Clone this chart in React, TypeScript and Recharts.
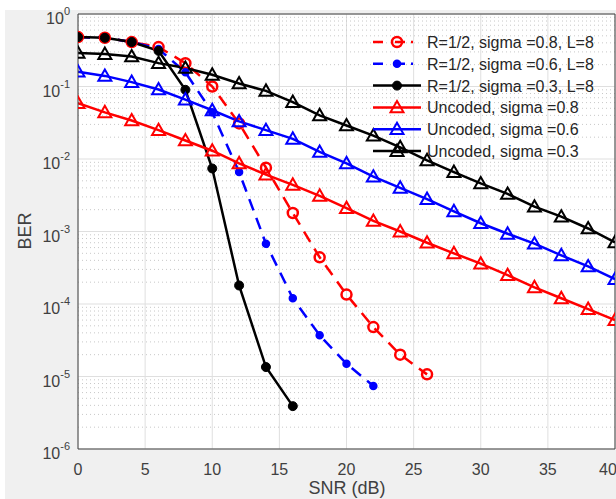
import React from "react";
import {
  LineChart,
  Line,
  XAxis,
  YAxis,
  CartesianGrid,
  ReferenceLine,
} from "recharts";

// ---- data ----
const snrCoded08 = [0, 2, 4, 6, 8, 10, 12, 14, 16, 18, 20, 22, 24, 26];
const berCoded08 = [0.48, 0.47, 0.41, 0.35, 0.21, 0.1, 0.031, 0.0076, 0.0018, 4.4e-4, 1.35e-4, 4.8e-5, 2.0e-5, 1.07e-5];

const snrCoded06 = [0, 2, 4, 6, 8, 10, 12, 14, 16, 18, 20, 22];
const berCoded06 = [0.48, 0.47, 0.41, 0.33, 0.157, 0.044, 0.0066, 6.8e-4, 1.2e-4, 3.7e-5, 1.5e-5, 7.4e-6];

const snrCoded03 = [0, 2, 4, 6, 8, 10, 12, 14, 16];
const berCoded03 = [0.48, 0.47, 0.41, 0.31, 0.09, 0.0074, 1.8e-4, 1.35e-5, 3.9e-6];

const snrUncoded = [0, 2, 4, 6, 8, 10, 12, 14, 16, 18, 20, 22, 24, 26, 28, 30, 32, 34, 36, 38, 40];
const berUnc08 = [0.059, 0.044, 0.034, 0.025, 0.018, 0.013, 0.0087, 0.0061, 0.0044, 0.0031, 0.0021, 0.0014, 0.001, 7.0e-4, 5.0e-4, 3.6e-4, 2.5e-4, 1.7e-4, 1.2e-4, 8.5e-5, 6.0e-5];
const berUnc06 = [0.16, 0.14, 0.115, 0.091, 0.066, 0.047, 0.033, 0.025, 0.019, 0.0125, 0.0087, 0.0057, 0.004, 0.0028, 0.0019, 0.0013, 9.3e-4, 6.8e-4, 4.7e-4, 3.3e-4, 2.2e-4];
const berUnc03 = [0.29, 0.28, 0.26, 0.21, 0.18, 0.145, 0.11, 0.087, 0.061, 0.04, 0.029, 0.021, 0.0145, 0.0096, 0.0066, 0.0046, 0.0033, 0.0022, 0.0016, 0.0011, 7.1e-4];

const xTicks = [0, 5, 10, 15, 20, 25, 30, 35, 40];
const yExponents = [-6, -5, -4, -3, -2, -1, 0];
const minorMultipliers = [2, 3, 4, 5, 6, 7, 8, 9];

const legendLabels = [
  "R=1/2, sigma =0.8, L=8",
  "R=1/2, sigma =0.6, L=8",
  "R=1/2, sigma =0.3, L=8",
  "Uncoded, sigma =0.8",
  "Uncoded, sigma =0.6",
  "Uncoded, sigma =0.3",
];

const toRows = (xs: number[], ys: number[]) => xs.map((x, i) => ({ snr: x, ber: ys[i] }));

const yTicks = yExponents.map((e) => Math.pow(10, e));
const minorTicks: number[] = [];
yExponents.slice(0, -1).forEach((e) => {
  minorMultipliers.forEach((m) => minorTicks.push(m * Math.pow(10, e)));
});

const FONT = "'Liberation Sans', Arial, Helvetica, sans-serif";
const RED = "#ff0000";
const BLUE = "#0000ff";
const BLACK = "#000000";
const DASH = "12 8";

type MarkerKind = "openCircle" | "smallDot" | "dot" | "triangle";

const Marker = ({ cx, cy, kind, color }: { cx: number; cy: number; kind: MarkerKind; color: string }) => {
  if (cx == null || cy == null || isNaN(cx) || isNaN(cy)) return null;
  if (kind === "openCircle")
    return <circle cx={cx} cy={cy} r={5} fill="none" stroke={color} strokeWidth={2.5} />;
  if (kind === "smallDot")
    return <circle cx={cx} cy={cy} r={3.5} fill={color} stroke={color} strokeWidth={1.5} />;
  if (kind === "dot")
    return <circle cx={cx} cy={cy} r={4.5} fill={color} stroke={color} strokeWidth={1} />;
  const s = 6.5;
  return (
    <polygon
      points={`${cx},${cy - s} ${cx - s},${cy + s * 0.75} ${cx + s},${cy + s * 0.75}`}
      fill="none"
      stroke={color}
      strokeWidth={2}
      strokeLinejoin="miter"
    />
  );
};

const makeDot = (kind: MarkerKind, color: string) => (props: any) => (
  <Marker key={`${kind}-${color}-${props.index}`} cx={props.cx} cy={props.cy} kind={kind} color={color} />
);

const YTick = (props: any) => {
  const { x, y, payload } = props;
  const e = Math.round(Math.log10(payload.value));
  return (
    <text x={x - 6} y={y + 10} textAnchor="end" fill="#404040" fontSize={16} fontFamily={FONT}>
      10
      <tspan dy={-9} fontSize={11}>
        {e}
      </tspan>
    </text>
  );
};

const XTick = (props: any) => {
  const { x, y, payload } = props;
  return (
    <text x={x} y={y + 24} textAnchor="middle" fill="#404040" fontSize={16} fontFamily={FONT}>
      {payload.value}
    </text>
  );
};

const series = [
  { data: toRows(snrCoded08, berCoded08), color: RED, dash: DASH, kind: "openCircle" as MarkerKind },
  { data: toRows(snrCoded06, berCoded06), color: BLUE, dash: DASH, kind: "smallDot" as MarkerKind },
  { data: toRows(snrCoded03, berCoded03), color: BLACK, dash: undefined, kind: "dot" as MarkerKind },
  { data: toRows(snrUncoded, berUnc08), color: RED, dash: undefined, kind: "triangle" as MarkerKind },
  { data: toRows(snrUncoded, berUnc06), color: BLUE, dash: undefined, kind: "triangle" as MarkerKind },
  { data: toRows(snrUncoded, berUnc03), color: BLACK, dash: undefined, kind: "triangle" as MarkerKind },
];

const LegendBox = () => (
  <svg width={260} height={140} style={{ position: "absolute", left: 365, top: 30, pointerEvents: "none" }}>
    {series.map((s, i) => {
      const cy = 12 + i * 21.8;
      return (
        <g key={i}>
          <line x1={8} x2={56} y1={cy} y2={cy} stroke={s.color} strokeWidth={2.5} strokeDasharray={s.dash ? "10 12 10 6 2 100" : undefined} />
          <Marker cx={32} cy={cy} kind={s.kind} color={s.color} />
          <text x={62} y={cy + 6} fontSize={16} fontFamily={FONT} fill="#262626">
            {legendLabels[i]}
          </text>
        </g>
      );
    })}
  </svg>
);

export default function App() {
  return (
    <div style={{ position: "absolute", left: 0, top: 0, width: 616, height: 499, background: "#ffffff", overflow: "hidden" }}>
      <div style={{ position: "absolute", left: 5, top: 10, width: 611, height: 489, background: "#f0f0f0" }} />
      <div style={{ position: "absolute", left: 0, top: 0 }}>
        <LineChart width={616} height={499} margin={{ top: 14, right: 1, left: 0, bottom: 0 }}>
          <CartesianGrid stroke="#dfdfdf" strokeWidth={1} fill="#ffffff" fillOpacity={1} />
          {minorTicks.map((v) => (
            <ReferenceLine key={v} y={v} stroke="#c8c8c8" strokeDasharray="1 3" strokeWidth={1} />
          ))}
          <XAxis
            type="number"
            dataKey="snr"
            domain={[0, 40]}
            ticks={xTicks}
            allowDataOverflow
            height={50}
            tickSize={0}
            tickLine={false}
            axisLine={{ stroke: "#404040", strokeWidth: 1 }}
            tick={<XTick />}
          />
          <YAxis
            type="number"
            dataKey="ber"
            scale="log"
            domain={[1e-6, 1]}
            ticks={yTicks}
            allowDataOverflow
            width={78}
            tickSize={0}
            tickLine={false}
            axisLine={{ stroke: "#404040", strokeWidth: 1 }}
            tick={<YTick />}
          />
          <ReferenceLine y={1} stroke="#404040" strokeWidth={1} />
          <ReferenceLine x={40} stroke="#404040" strokeWidth={1} />
          {series.map((s, i) => (
            <Line
              key={i}
              data={s.data}
              dataKey="ber"
              type="linear"
              stroke={s.color}
              strokeWidth={2.5}
              strokeDasharray={s.dash}
              dot={makeDot(s.kind, s.color)}
              activeDot={false}
              isAnimationActive={false}
              legendType="none"
            />
          ))}
          <text x={347} y={494} textAnchor="middle" fontSize={18} fontFamily={FONT} fill="#404040">
            SNR (dB)
          </text>
          <text
            x={31}
            y={231}
            textAnchor="middle"
            fontSize={18}
            fontFamily={FONT}
            fill="#404040"
            transform="rotate(-90 31 231)"
          >
            BER
          </text>
        </LineChart>
      </div>
      <LegendBox />
    </div>
  );
}
